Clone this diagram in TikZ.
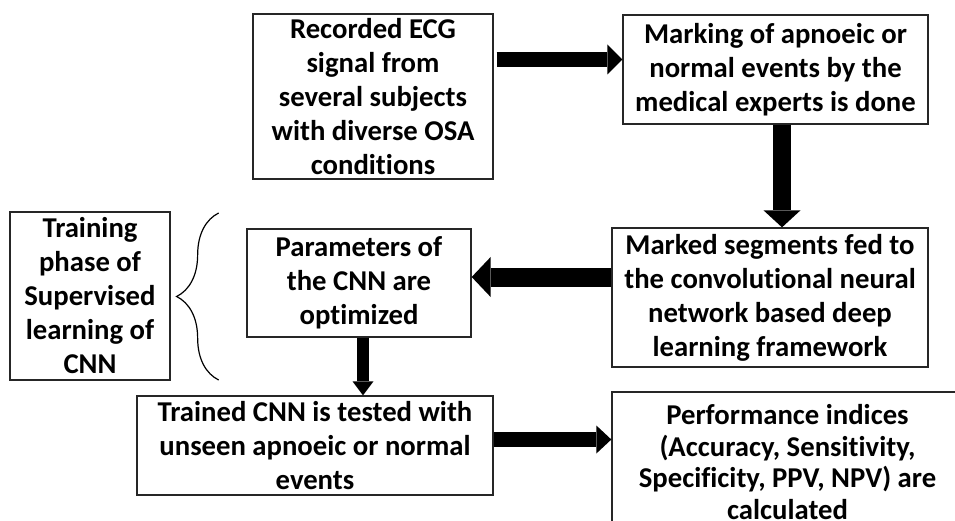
\documentclass[tikz,border=0pt]{standalone}
\usepackage{fontspec}
\setmainfont{Carlito}[Ligatures={NoCommon,NoRare,NoContextual}]
\usetikzlibrary{arrows.meta, decorations.pathreplacing, calc}

\begin{document}
\begin{tikzpicture}[x=1pt, y=-1pt,
    box/.style={draw=black!85, line width=1.3pt, align=center, inner sep=0pt,
      font=\fontsize{28.7}{34}\selectfont\bfseries},
    blockarrow/.style n args={3}{line width=#1, -{Triangle[width=#2, length=#3, line width=0pt]}}]
  \useasboundingbox (0,0) rectangle (955,521);

  \node[box, minimum width=240pt, minimum height=165pt] (recorded) at (373,96.5)
    {Recorded ECG\\signal from\\several subjects\\with diverse OSA\\conditions};
  \node[box, minimum width=305pt, minimum height=109pt] (marking) at (775.5,69.5)
    {Marking of apnoeic or\\normal events by the\\medical experts is done};
  \node[box, minimum width=316pt, minimum height=139pt] (marked) at (770,297.5)
    {Marked segments fed to\\the convolutional neural\\network based deep\\learning framework};
  \node[box, minimum width=224pt, minimum height=108pt] (params) at (359,283)
    {Parameters of\\the CNN are\\optimized};
  \node[box, minimum width=160pt, minimum height=168pt] (training) at (90,296)
    {Training\\phase of\\Supervised\\learning of\\CNN};
  \node[box, minimum width=356pt, minimum height=99pt] (trained) at (315,445.5)
    {Trained CNN is tested with\\unseen apnoeic or normal\\events};
  \node[box, minimum width=351pt, minimum height=140pt,
    font=\fontsize{28.7}{31.5}\selectfont\bfseries] (perf) at (787.5,462)
    {Performance indices\\(Accuracy, Sensitivity,\\Specificity, PPV, NPV) are\\calculated};

  % block arrows
  \draw[blockarrow={15pt}{30pt}{15pt}] ($(recorded.east |- marking.west)+(3,-10)$) -- ($(marking.west)+(0,-10)$);
  \draw[blockarrow={18pt}{37pt}{17pt}] ($(marking.south)+(6.5,0)$) coordinate (a2) -- (a2 |- marked.north);
  \draw[blockarrow={19pt}{40pt}{19pt}] ($(marked.west)+(0,-20.5)$) coordinate (a3) -- (a3 -| params.east);
  \draw[blockarrow={12pt}{21pt}{14pt}] ($(params.south)+(4,0)$) coordinate (a4) -- (a4 |- trained.north);
  \draw[blockarrow={15pt}{28pt}{15pt}] ($(trained.east)+(0,-6)$) coordinate (a5) -- (a5 -| perf.west);

  % brace for the training phase
  \draw[line width=1.2pt, decorate, decoration={brace, amplitude=42pt}]
    ($(training.east)+(48,84)$) -- ($(training.east)+(48,-83)$);
\end{tikzpicture}
\end{document}
